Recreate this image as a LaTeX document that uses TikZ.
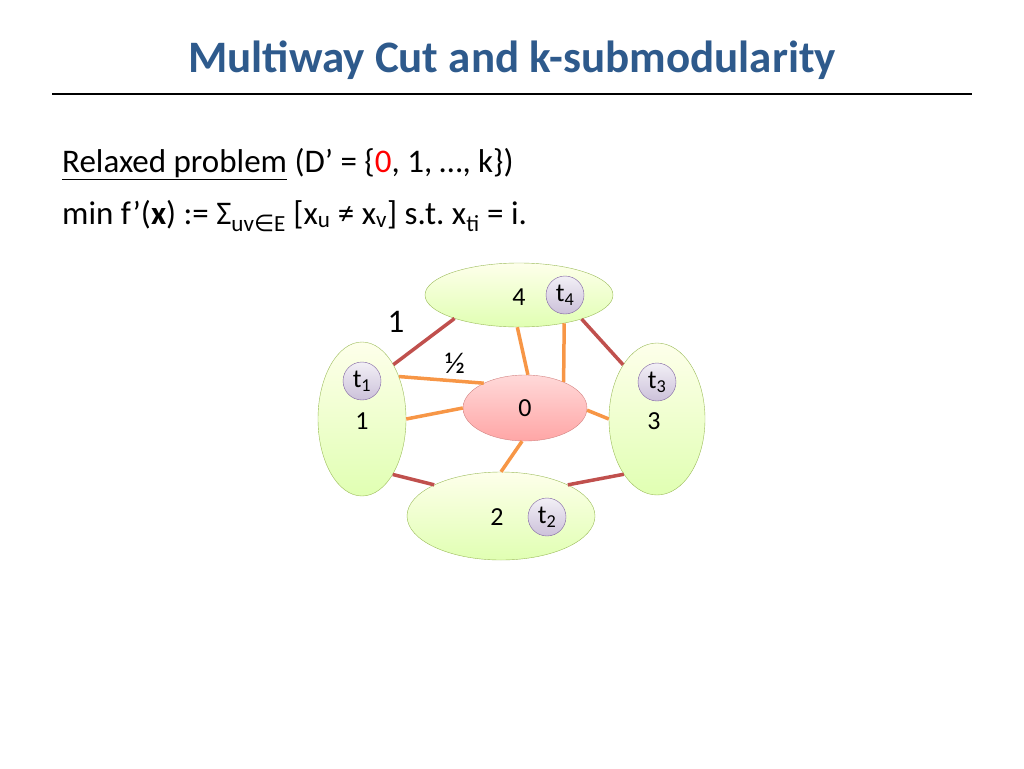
\documentclass[tikz,border=0pt]{standalone}
\usepackage{fontspec}
\setmainfont{Carlito}
\newfontfamily\symfont{DejaVu Sans}
\frenchspacing
\usetikzlibrary{shapes.geometric}
\definecolor{titleblue}{HTML}{2E5A8C}
\definecolor{cutred}{HTML}{C0504D}
\definecolor{halforange}{HTML}{F79646}
\definecolor{partgreen}{HTML}{9BBB59}
\definecolor{termpurple}{HTML}{8064A2}
\tikzset{
  part/.style={ellipse,draw=partgreen,top color=green!6!yellow!8,bottom color=green!40!yellow!30,inner sep=0pt},
  zero/.style={ellipse,draw=cutred!70,top color=red!15,bottom color=red!35,inner sep=0pt,minimum width=124pt,minimum height=66pt},
  term/.style={circle,draw=termpurple,top color=termpurple!10,bottom color=termpurple!40,inner sep=0pt,minimum size=38pt},
  cut/.style={cutred,line width=3.5pt},
  half/.style={halforange,line width=3.5pt}
}
\begin{document}
\begin{tikzpicture}[x=1pt,y=-1pt,font=\fontsize{26}{30}\selectfont]
\useasboundingbox (0,0) rectangle (1024,768);
% title
\node[anchor=base,font=\fontsize{45}{50}\selectfont\bfseries,text=titleblue] (title) at (512,72) {Multiway Cut and k-submodularity};
\draw[line width=2.5pt] (52,94) -- (972,94);
% problem text
\node[anchor=base west,inner sep=0pt,font=\fontsize{33}{38}\selectfont] (relax) at (62,172)
  {\underline{Relaxed problem} (D’ = \{\textcolor{red}{0}, 1, …, k\})};
\node[anchor=base west,inner sep=0pt,font=\fontsize{33}{38}\selectfont] (obj) at (62,224)
  {min f’(\textbf{x}) := Σ\textsubscript{uv{\symfont ∈}E} [x\textsubscript{u} ≠ x\textsubscript{v}] s.t. x\textsubscript{ti} = i.};
% parts
\node[part,minimum width=188pt,minimum height=64pt] (p4) at (519,295) {};
\node[part,minimum width=88pt,minimum height=154pt] (p1) at (362,419) {};
\node[part,minimum width=96pt,minimum height=152pt] (p3) at (657,419) {};
\node[part,minimum width=188pt,minimum height=88pt] (p2) at (501,516) {};
\node[zero] (p0) at (525,408) {0};
% edges
\draw[cut] (p1.60) -- (p4.200);
\draw[cut] (p4.-21) -- (p3.122);
\draw[cut] (p1.-61) -- (p2.155);
\draw[cut] (p2.25) -- (p3.239);
\draw[half] (p1.49) -- (p0.149);
\draw[half] (p1.0) -- (p0.180);
\draw[half] (p4.267) -- (p0.85);
\draw[half] (p4.-32) -- (p0.34);
\draw[half] (p0.-2) -- (p3.180);
\draw[half] (p0.265) -- (p2.90);
% labels
\node (l4) at (519,297) {4};
\node (l1) at (362,421) {1};
\node (l3) at (654,421) {3};
\node (l2) at (497,517) {2};
\node[term] (t4) at (565,295) {t\textsubscript{4}};
\node[term] (t1) at (362,381) {t\textsubscript{1}};
\node[term] (t3) at (657,382) {t\textsubscript{3}};
\node[term] (t2) at (547,517) {t\textsubscript{2}};
\node[font=\fontsize{33}{38}\selectfont] (w1) at (396,322) {1};
\node[font=\fontsize{30}{34}\selectfont] (wh) at (455,363) {½};
\end{tikzpicture}
\end{document}
